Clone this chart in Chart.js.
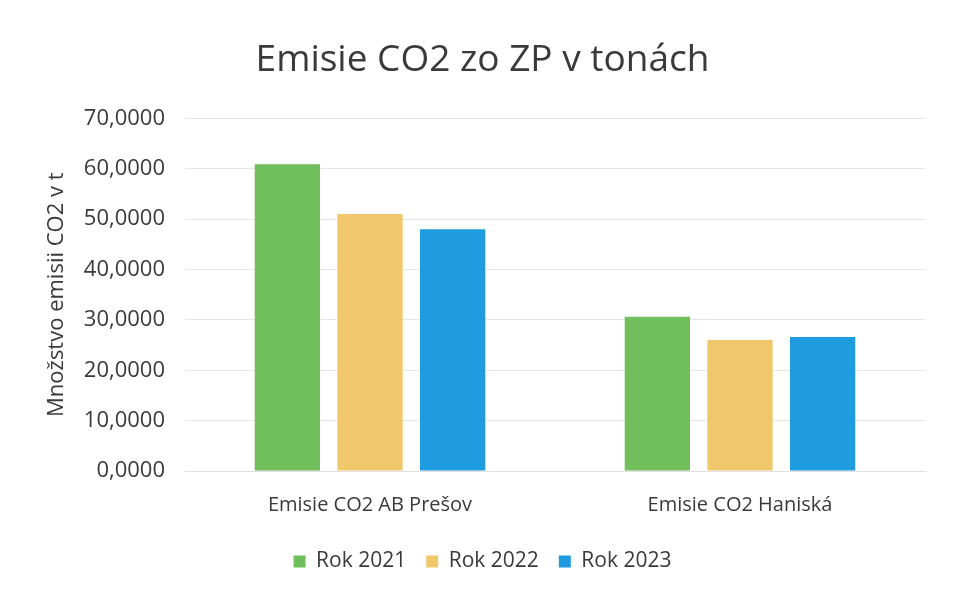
<!DOCTYPE html>
<html>
<head>
<meta charset="utf-8">
<script src="https://cdn.jsdelivr.net/npm/chart.js@4"></script>
<style>
  html, body { margin: 0; padding: 0; background: #fff; }
  #wrap { width: 954px; height: 589px; position: relative; }
</style>
</head>
<body>
<div id="wrap"><canvas id="co2Chart"></canvas></div>
<script>
const categories = ['Emisie CO2 AB Prešov', 'Emisie CO2 Haniská'];
const rok2021 = [60.9, 30.6];
const rok2022 = [51.0, 26.0];
const rok2023 = [48.0, 26.6];

const fontFamily = '"Open Sans", Lato, sans-serif';
const textColor = '#3a3a3a';

const ctx = document.getElementById('co2Chart').getContext('2d');

new Chart(ctx, {
    type: 'bar',
    data: {
        labels: categories,
        datasets: [
            { label: 'Rok 2021', data: rok2021, backgroundColor: '#70bf5c' },
            { label: 'Rok 2022', data: rok2022, backgroundColor: '#f1c76c' },
            { label: 'Rok 2023', data: rok2023, backgroundColor: '#1f9be0' }
        ]
    },
    options: {
        responsive: true,
        maintainAspectRatio: false,
        animation: false,
        layout: { padding: { left: 40, right: 29, top: 38, bottom: 7 } },
        datasets: {
            bar: { categoryPercentage: 0.67, barPercentage: 0.79 }
        },
        scales: {
            y: {
                min: 0,
                max: 70,
                afterFit: scale => { scale.width = 145; },
                ticks: {
                    stepSize: 10,
                    color: textColor,
                    padding: 20,
                    font: { family: fontFamily, size: 22 },
                    callback: v => v.toFixed(4).replace('.', ',')
                },
                title: {
                    display: true,
                    text: 'Množstvo emisii CO2 v t',
                    color: textColor,
                    font: { family: fontFamily, size: 22 }
                },
                grid: { color: '#e6e6e6', drawTicks: false },
                border: { display: false }
            },
            x: {
                ticks: {
                    color: textColor,
                    padding: 14,
                    font: { family: fontFamily, size: 20 }
                },
                grid: { display: false },
                border: { color: '#e0e0e0' }
            }
        },
        plugins: {
            title: {
                display: true,
                text: 'Emisie CO2 zo ZP v tonách',
                color: textColor,
                font: { family: fontFamily, size: 37, weight: 'normal' },
                padding: { top: 0, bottom: 36 }
            },
            legend: {
                position: 'bottom',
                labels: {
                    color: textColor,
                    boxWidth: 12,
                    boxHeight: 12,
                    padding: 20,
                    font: { family: fontFamily, size: 21 }
                }
            },
            tooltip: { enabled: false }
        }
    }
});
</script>
</body>
</html>
